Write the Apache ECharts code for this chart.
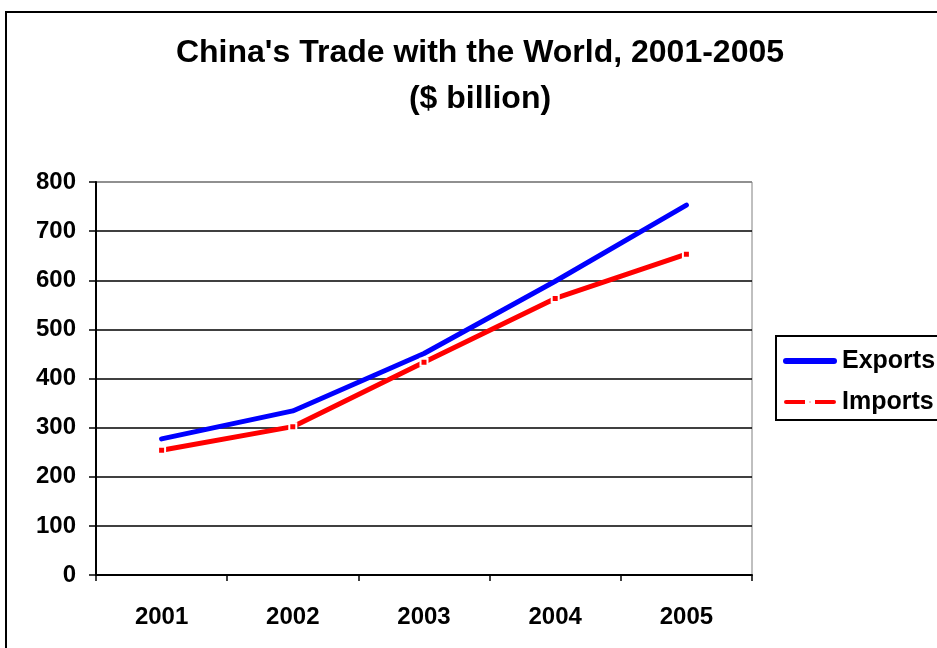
<!DOCTYPE html>
<html>
<head>
<meta charset="utf-8">
<script src="https://cdn.jsdelivr.net/npm/echarts@6/dist/echarts.min.js"></script>
<style>html,body{margin:0;padding:0;background:#fff}#c{width:937px;height:648px}</style>
</head>
<body>
<div id="c"></div>
<script>
var years = ['2001', '2002', '2003', '2004', '2005'];
var exportsData = [277, 334, 451, 598, 753];
var importsData = [254, 302, 433, 563, 653];
var yTicks = [0, 100, 200, 300, 400, 500, 600, 700, 800];

var FONT = 'Arial, "Liberation Sans", sans-serif';
var chart = echarts.init(document.getElementById('c'), null, {renderer: 'canvas'});
var splitColors = yTicks.map(function (v, i) { return i === yTicks.length - 1 ? '#808080' : '#000000'; });
chart.setOption({
  animation: false,
  backgroundColor: '#ffffff',
  title: {
    text: "China's Trade with the World, 2001-2005\n($ billion)",
    left: 480, textAlign: 'center', top: 30, padding: 0,
    textStyle: {fontFamily: FONT, fontSize: 32, fontWeight: 'bold', color: '#000', lineHeight: 46}
  },
  graphic: [{
    type: 'rect', shape: {x: 6, y: 12, width: 1000, height: 1000},
    style: {fill: 'none', stroke: '#000', lineWidth: 2}, silent: true
  }],
  legend: {
    orient: 'vertical', left: 776, top: 336,
    padding: [11, 10, 4, 6], itemGap: 13,
    itemWidth: 54, itemHeight: 6,
    borderColor: '#000', borderWidth: 2,
    textStyle: {fontFamily: FONT, fontSize: 25, fontWeight: 'bold', color: '#000', lineHeight: 28},
    data: [
      {name: 'Exports', icon: 'path://M3,0 H51 A3,3 0 0 1 51,6 H3 A3,3 0 0 1 3,0 Z'},
      {name: 'Imports', icon: 'path://M3,0 H23 V6 H3 A3,3 0 0 1 3,0 Z M31,0 H51 A3,3 0 0 1 51,6 H31 Z M25.5,1.5 H28.5 V4.5 H25.5 Z'}
    ]
  },
  grid: {left: 96, right: 185, top: 182, bottom: 73, show: true, borderColor: '#808080', borderWidth: 1},
  xAxis: {
    type: 'category', data: years, boundaryGap: true,
    axisLine: {lineStyle: {color: '#000', width: 2}},
    axisTick: {show: true, length: 6, inside: false, lineStyle: {color: '#000', width: 1.5}},
    axisLabel: {fontFamily: FONT, fontSize: 24, fontWeight: 'bold', color: '#000', margin: 30}
  },
  yAxis: {
    type: 'value', min: 0, max: 800, interval: 100,
    axisLine: {show: true, lineStyle: {color: '#000', width: 2}},
    axisTick: {show: true, length: 7, inside: false, lineStyle: {color: '#000', width: 1.5}},
    axisLabel: {fontFamily: FONT, fontSize: 24, fontWeight: 'bold', color: '#000', margin: 20,
      formatter: function (v) { return yTicks.indexOf(v) >= 0 ? String(v) : ''; }},
    splitLine: {show: true, lineStyle: {color: splitColors, width: 1.5}}
  },
  series: [{
    name: 'Exports', type: 'line', data: exportsData,
    symbol: 'none', lineStyle: {color: '#0000ff', width: 5, cap: 'round', join: 'round'},
    itemStyle: {color: '#0000ff'}
  }, {
    name: 'Imports', type: 'line', data: importsData,
    symbol: 'rect', symbolSize: 7, showSymbol: true,
    lineStyle: {color: '#ff0000', width: 5, join: 'round'},
    itemStyle: {color: '#ff0000', borderColor: '#ffffff', borderWidth: 2}
  }]
});
</script>
</body>
</html>
